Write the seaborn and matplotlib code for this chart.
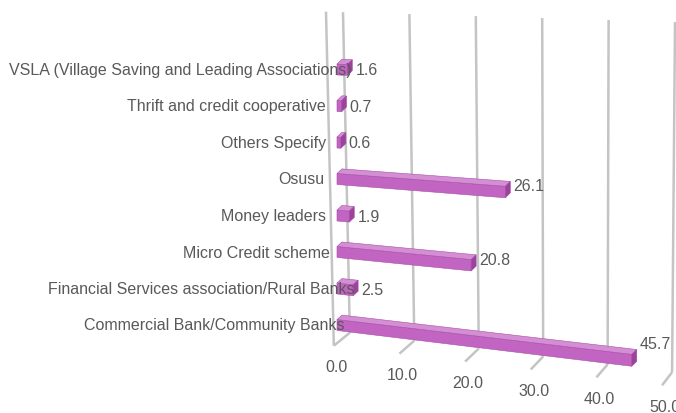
import numpy as np
import pandas as pd
import matplotlib
matplotlib.use("Agg")
import matplotlib.pyplot as plt
import seaborn as sns
from matplotlib import transforms as mtransforms
from matplotlib.patches import Polygon
from matplotlib.lines import Line2D

# ---- data -------------------------------------------------------------
sources = [
    "VSLA (Village Saving and Leading Associations)",
    "Thrift and credit cooperative",
    "Others Specify",
    "Osusu",
    "Money leaders",
    "Micro Credit scheme",
    "Financial Services association/Rural Banks",
    "Commercial Bank/Community Banks",
]
shares = [1.6, 0.7, 0.6, 26.1, 1.9, 20.8, 2.5, 45.7]
ticks = [0, 10, 20, 30, 40, 50]
tick_labels = ["0.0", "10.0", "20.0", "30.0", "40.0", "50.0"]

# ---- layout / style ---------------------------------------------------
W, H = 676, 414
label_offset_px = [15, -11, -11, -13, -11, -7, 17, 7]   # right edge of category text vs. bar root
FRONT = "#c264c2"
TOP = "#d48fd4"
SIDE = "#9c429c"
EDGE = "#a64ea6"
GRID = "#c4c4c4"
TEXT = "#595959"
DEPTH = (5, 5)  # bar extrusion in pixels (right, up)

sns.set_theme(style="white")
plt.rcParams["font.family"] = ["Liberation Sans", "DejaVu Sans"]
FS = 11.5


class Perspective(mtransforms.Transform):
    """Tilts a flat display-space drawing into a receding plane."""
    input_dims = 2
    output_dims = 2
    is_separable = False
    has_inverse = False

    def __init__(self, height, x0, k0, k1, yref, kscale=1.0, xc=0.0, s=0.0, sref=0.0):
        super().__init__()
        self.height, self.x0, self.k0, self.k1, self.yref = height, x0, k0, k1, yref
        self.kscale, self.xc, self.s, self.sref = kscale, xc, s, sref

    def transform_non_affine(self, values):
        v = np.asarray(values, dtype=float).reshape(-1, 2)
        x = v[:, 0]
        yd = self.height - v[:, 1]
        k = (self.k0 + self.k1 * (yd - self.yref)) * self.kscale
        yd_new = yd + k * (x - self.x0)
        x_new = self.xc + (x - self.xc) * (1.0 + self.s * (yd - self.sref))
        return np.column_stack([x_new, self.height - yd_new])


fig = plt.figure(figsize=(W / 100, H / 100), dpi=100)
fig.patch.set_facecolor("white")

x_root = 337.0
row0, row_step = 70.5, 36.5
ax_top = row0 - 0.5 * row_step
ax_bot = row0 + 7.5 * row_step
ax = fig.add_axes([x_root / W, (H - ax_bot) / H, 322.5 / W, (ax_bot - ax_top) / H])

df = pd.DataFrame({"source": sources, "share": shares})
sns.barplot(data=df, x="share", y="source", orient="h", color=FRONT,
            saturation=1, width=0.3, ax=ax, zorder=2)
ax.set_xlim(0, 50)
ax.set_ylim(7.5, -0.5)
ax.axis("off")

persp_bar = Perspective(H, x0=x_root, k0=0.045, k1=0.00029, yref=68)
persp_lbl = Perspective(H, x0=x_root, k0=0.045, k1=0.00029, yref=68, kscale=0.5)
persp_wall = Perspective(H, x0=x_root, k0=0.045, k1=0.00028, yref=68,
                         xc=575, s=-9.2e-5, sref=13)

wall_shift = mtransforms.Affine2D().translate(-x_root, 0).scale(1.0295, 1).translate(343, 0)
wall_tr = ax.transData + wall_shift + persp_wall
front_shift = mtransforms.Affine2D().translate(-x_root, 0).scale(1.0295, 1).translate(326, 0)
front_tr = ax.transData + front_shift + persp_wall

idx_top = (13 - row0) / row_step
idx_bot = (333 - row0) / row_step

# back wall gridlines
for v in ticks:
    ax.add_line(Line2D([v, v], [idx_top, idx_bot], transform=wall_tr,
                       color=GRID, lw=1.8, solid_capstyle="butt",
                       clip_on=False, zorder=0))

# floor tick marks, tick labels and the left wall edge
ident = mtransforms.IdentityTransform()
tick_ends = []
for v, lab in zip(ticks, tick_labels):
    px, py = wall_tr.transform((v, idx_bot))
    ex, ey = px - (16 - 0.12 * v), py - 13
    tick_ends.append((ex, ey))
    fig.add_artist(Line2D([px, ex], [py, ey], transform=ident, color=GRID,
                          lw=1.8, solid_capstyle="butt", zorder=0))
    fig.text(ex + 3, ey - 21, lab, transform=ident, ha="center", va="center",
             color=TEXT, fontsize=FS)

tx, ty = front_tr.transform((0, idx_top))
fig.add_artist(Line2D([tx, tick_ends[0][0]], [ty, tick_ends[0][1]], transform=ident,
                      color=GRID, lw=1.8, solid_capstyle="butt", zorder=0))

# extruded bars
dx, dy = DEPTH
for p in list(ax.patches):
    x, y, w, h = p.get_x(), p.get_y(), p.get_width(), p.get_height()
    p.set_transform(ax.transData + persp_bar)
    p.set_clip_on(False)
    p.set_edgecolor(EDGE)
    p.set_linewidth(0.4)
    a = ax.transData.transform((x, y))
    b = ax.transData.transform((x + w, y))
    c = ax.transData.transform((x + w, y + h))
    top = [a, b, (b[0] + dx, b[1] + dy), (a[0] + dx, a[1] + dy)]
    side = [b, c, (c[0] + dx, c[1] + dy), (b[0] + dx, b[1] + dy)]
    ax.add_patch(Polygon(top, closed=True, transform=persp_bar, facecolor=TOP,
                         edgecolor=EDGE, lw=0.4, clip_on=False, zorder=2))
    ax.add_patch(Polygon(side, closed=True, transform=persp_bar, facecolor=SIDE,
                         edgecolor=EDGE, lw=0.4, clip_on=False, zorder=2))

# category labels
for i, (src, off) in enumerate(zip(sources, label_offset_px)):
    ax.text(0, i, src, ha="right", va="center", color=TEXT, fontsize=FS,
            transform=ax.transData + mtransforms.Affine2D().translate(off, 0),
            clip_on=False, zorder=4)

# value labels
for i, v in enumerate(shares):
    ax.text(v, i, f"{v:.1f}", ha="left", va="center", color=TEXT, fontsize=FS,
            transform=ax.transData + mtransforms.Affine2D().translate(8, 0) + persp_lbl,
            clip_on=False, zorder=4)

fig.savefig("out.png", dpi=100, facecolor="white")
